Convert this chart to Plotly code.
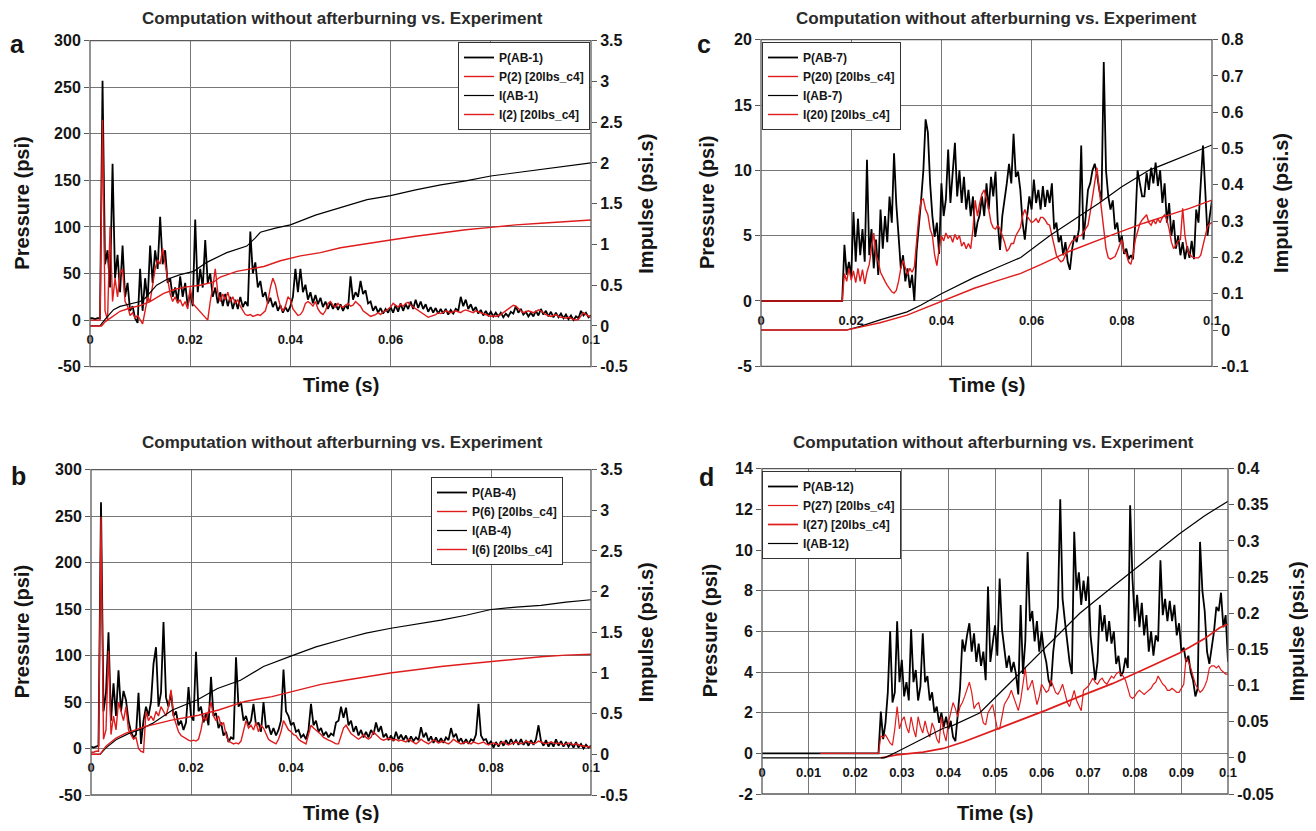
import plotly.graph_objects as go

W, H = 1316, 831          # page (window) size
OFF = 8                   # default body margin of the written html page
WF, HF = W - 2 * OFF, H - 2 * OFF   # figure size so the page fits exactly
N = 201
t_grid = [round(i * 0.0005, 4) for i in range(N)]   # 0.5 ms sampling grid (s)

# ---------------- Panel a : P(AB-1) / P(2) ----------------
pa_black = [
    2, 2, 1, 2, 2, 257, 60, 75, 35, 168,
    45, 70, 30, 80, 25, 40, 10, 15, 2, -3,
    55, 10, 45, 20, 80, 40, 75, 55, 111, 60,
    75, 40, 45, 25, 35, 20, 47, 25, 40, 15,
    30, 15, 108, 30, 55, 35, 86, 40, 50, 25,
    35, 18, 30, 15, 28, 15, 25, 12, 22, 12,
    25, 14, 20, 15, 95, 50, 62, 35, 42, 25,
    30, 18, 24, 14, 20, 10, 16, 8, 14, 9,
    15, 25, 55, 30, 55, 30, 38, 22, 30, 18,
    27, 17, 24, 14, 20, 12, 19, 12, 18, 11,
    17, 10, 16, 12, 47, 22, 30, 25, 42, 28,
    32, 18, 20, 10, 15, 8, 13, 7, 12, 8,
    14, 8, 16, 9, 18, 10, 17, 12, 20, 12,
    22, 13, 20, 12, 17, 9, 14, 8, 13, 7,
    12, 7, 12, 6, 11, 7, 12, 10, 25, 15,
    22, 12, 17, 10, 14, 7, 11, 5, 10, 5,
    9, 4, 8, 4, 8, 3, 7, 4, 9, 7,
    15, 8, 12, 6, 9, 4, 8, 4, 10, 5,
    12, 6, 10, 4, 9, 3, 8, 3, 7, 2,
    6, 1, 5, 0, 4, 2, 10, 5, 8, 3,
    5]
pa_red = [
    0, 0, 0, 0, 0, 215, 10, 0, 100, 20,
    45, 25, 50, 55, 20, 15, 5, 8, 2, 5,
    0, -4, 10, 25, 20, 40, 55, 65, 60, 77,
    60, 40, 28, 20, 25, 18, 22, 15, 20, 12,
    35, 18, 15, 12, 10, 6, 4, 0, 20, 35,
    55, 30, 20, 28, 22, 30, 20, 25, 18, 22,
    15, 10, 6, 5, 6, 4, 5, 6, 5, 8,
    10, 20, 35, 45, 38, 25, 15, 10, 15, 25,
    22, 12, 8, 5, 6, 10, 18, 20, 18, 15,
    20, 12, 8, 6, 10, 18, 20, 16, 14, 18,
    15, 14, 16, 18, 15, 16, 20, 18, 15, 10,
    8, 6, 4, 5, 6, 8, 6, 9, 10, 12,
    14, 18, 16, 14, 17, 15, 18, 19, 16, 14,
    12, 10, 8, 6, 4, 3, 4, 5, 6, 8,
    7, 8, 10, 9, 8, 9, 10, 9, 8, 10,
    11, 10, 9, 8, 10, 9, 8, 7, 6, 5,
    4, 5, 4, 5, 6, 8, 10, 12, 14, 16,
    15, 12, 10, 8, 9, 10, 9, 8, 9, 11,
    10, 8, 6, 5, 4, 5, 6, 4, 3, 3,
    2, 3, 2, 1, 0, 1, 5, 8, 6, 4,
    3]
ia_black_ms = [0, 2, 3, 4.7, 6, 8, 10, 11, 13.3, 15.3, 18, 20.7, 23.3, 27.3, 31.3, 33, 34, 37, 40, 45,
               50, 55.3, 60, 65, 70, 75, 80, 85, 90, 95, 100]
ia_black = [0, 0, 0.08, 0.2, 0.24, 0.27, 0.3, 0.34, 0.5, 0.57, 0.63, 0.67, 0.78, 0.9, 0.98, 1.08, 1.15, 1.2, 1.24, 1.36,
            1.45, 1.55, 1.6, 1.67, 1.73, 1.78, 1.84, 1.88, 1.92, 1.96, 2.0]
ia_red_ms = [0, 2.3, 3, 5, 6, 8, 10, 12, 14.7, 17, 19.3, 22, 24.7, 26, 29.3, 34.7, 38, 42, 46, 50,
             55, 60, 65, 70, 75, 80, 85, 90, 95, 100]
ia_red = [0, 0, 0.05, 0.13, 0.18, 0.22, 0.25, 0.3, 0.4, 0.45, 0.48, 0.5, 0.54, 0.6, 0.67, 0.73, 0.8, 0.86, 0.9, 0.96,
          1.01, 1.055, 1.1, 1.14, 1.18, 1.21, 1.24, 1.26, 1.28, 1.3]

# ---------------- Panel b : P(AB-4) / P(6) ----------------
pb_black = [
    2, 1, 2, 3, 265, 40, 60, 125, 30, 70,
    35, 84, 40, 62, 52, 30, 18, 12, 15, 60,
    5, 30, 45, 35, 50, 91, 109, 45, 60, 136,
    55, 45, 60, 35, 40, 25, 30, 20, 28, 66,
    35, 30, 104, 40, 45, 28, 38, 25, 77, 35,
    38, 22, 28, 14, 18, 7, 12, 10, 98, 45,
    50, 30, 35, 25, 30, 48, 25, 28, 18, 50,
    22, 25, 15, 22, 14, 20, 30, 85, 40, 35,
    25, 28, 18, 20, 12, 15, 10, 20, 48, 25,
    30, 18, 22, 14, 18, 12, 16, 14, 28, 30,
    45, 33, 44, 25, 30, 18, 24, 14, 20, 12,
    18, 12, 20, 15, 28, 18, 24, 12, 16, 9,
    14, 8, 18, 10, 15, 9, 14, 7, 13, 8,
    12, 9, 23, 12, 17, 8, 13, 6, 12, 6,
    11, 6, 12, 9, 22, 12, 16, 7, 11, 5,
    10, 5, 10, 8, 15, 48, 14, 9, 10, 4,
    8, 1, 7, 2, 8, 3, 9, 4, 10, 5,
    9, 4, 10, 4, 8, 3, 9, 4, 10, 25,
    8, 3, 9, 2, 7, 2, 10, 3, 8, 2,
    7, 2, 6, 1, 7, 1, 5, 0, 4, 1,
    3]
pb_red = [
    -4, -4, -3, -3, 249, 10, 20, 105, 15, 35,
    20, 50, 40, 30, 45, 20, 15, 10, 12, 0,
    -3, -4, 40, 30, 35, 30, 40, 35, 45, 40,
    35, 45, 63, 35, 25, 18, 14, 12, 10, 9,
    8, 9, 8, 10, 20, 35, 30, 40, 50, 35,
    30, 35, 25, 28, 15, 8, 6, 5, 6, 5,
    8, 20, 30, 22, 25, 20, 28, 18, 25, 22,
    15, 10, 8, 6, 5, 10, 18, 30, 25, 20,
    18, 15, 14, 10, 8, 6, 5, 15, 25, 22,
    20, 18, 15, 12, 10, 9, 8, 6, 5, 5,
    15, 22, 25, 20, 16, 14, 12, 10, 12, 15,
    12, 10, 12, 18, 15, 12, 10, 9, 10, 11,
    10, 9, 10, 8, 9, 8, 7, 10, 8, 6,
    5, 7, 10, 8, 6, 5, 7, 9, 8, 6,
    7, 8, 6, 5, 7, 10, 8, 6, 5, 6,
    7, 6, 5, 7, 6, 5, 6, 7, 5, 4,
    5, 6, 5, 4, 6, 7, 5, 4, 5, 6,
    7, 6, 5, 6, 8, 7, 6, 5, 6, 8,
    7, 6, 5, 6, 7, 6, 5, 6, 5, 4,
    5, 6, 5, 4, 5, 4, 3, 3, 2, 2,
    1]
ib_black_ms = [0, 1.8, 3, 5, 7.7, 10, 12.3, 16.3, 21.3, 25.3, 29.9, 34.5, 40.5, 45, 51.3, 55, 60, 65, 70, 75,
               80, 85, 90, 95, 100]
ib_black = [0, 0, 0.08, 0.18, 0.26, 0.31, 0.38, 0.545, 0.67, 0.81, 0.91, 1.08, 1.22, 1.32, 1.43, 1.49, 1.55, 1.6,
            1.65, 1.71, 1.78, 1.81, 1.83, 1.87, 1.9]
ib_red_ms = [0, 1.8, 3, 5, 7, 10.8, 16.1, 21.5, 25.5, 30.8, 36.2, 41.8, 46, 50.8, 55, 59.8, 65, 70, 75, 79.8,
             85, 90, 95, 100]
ib_red = [0, 0, 0.1, 0.2, 0.26, 0.34, 0.42, 0.48, 0.545, 0.65, 0.71, 0.8, 0.86, 0.91, 0.95, 1.0, 1.04, 1.08,
          1.11, 1.14, 1.17, 1.2, 1.22, 1.23]

# ---------------- Panel c : P(AB-7) / P(20) ----------------
pc_black = [
    0, 0, 0, 0, 0, 0, 0, 0, 0, 0,
    0, 0, 0, 0, 0, 0, 0, 0, 0, 0,
    0, 0, 0, 0, 0, 0, 0, 0, 0, 0,
    0, 0, 0, 0, 0, 0, 0, 4.3, 2.0, 3.0,
    1.8, 6.8, 3.0, 6.3, 3.5, 5.5, 3.0, 10.8, 3.5, 5.5,
    2.5, 4.7, 2.0, 7.0, 4.0, 6.5, 4.5, 8.0, 6.0, 11.3,
    7.4, 5.0, 2.5, 3.5, 1.5, 2.5, 1.0, 2.0, 0.0, 3.8,
    5.5, 7.7, 10.0, 13.9, 12.9, 9.0, 6.5, 4.9, 6.0, 3.6,
    9.0, 6.5, 7.8, 11.6, 7.5, 9.5, 12.1, 8.0, 10.0, 7.5,
    9.5, 7.0, 8.5, 6.5, 8.0, 4.9, 6.0, 6.6, 8.0, 6.5,
    9.0, 7.0, 9.5, 8.0, 9.9, 6.0, 3.9, 6.5, 7.7, 9.0,
    10.5, 9.0, 12.8, 9.5, 9.9, 8.5, 6.0, 4.7, 6.5, 8.0,
    7.0, 9.3, 7.5, 8.5, 7.0, 8.8, 7.2, 8.5, 7.5, 9.0,
    5.5, 6.0, 4.5, 5.0, 3.5, 4.5, 3.0, 2.4, 4.0, 5.0,
    4.5, 5.5, 11.9, 4.7, 6.5, 8.5, 9.0, 10.0, 10.5, 9.7,
    8.5, 7.7, 18.3, 10.0, 8.0, 7.0, 7.7, 5.5, 6.0, 4.5,
    5.0, 3.6, 4.0, 3.2, 3.5, 3.2, 6.0, 10.0, 9.0, 8.0,
    8.0, 9.8, 8.5, 10.2, 9.0, 10.6, 8.8, 10.0, 7.5, 9.0,
    6.0, 7.5, 5.0, 6.2, 4.0, 5.0, 3.5, 4.5, 3.2, 4.2,
    3.3, 4.6, 3.2, 7.0, 6.0, 9.5, 11.9, 8.5, 5.0, 6.5,
    7.7]
pc_red = [
    0, 0, 0, 0, 0, 0, 0, 0, 0, 0,
    0, 0, 0, 0, 0, 0, 0, 0, 0, 0,
    0, 0, 0, 0, 0, 0, 0, 0, 0, 0,
    0, 0, 0, 0, 0, 0, 0, 2.1, 1.5, 2.5,
    1.6, 2.3, 1.4, 2.5, 1.5, 2.4, 1.3, 2.2, 2.8, 4.0,
    5.2, 3.5, 3.0, 2.2, 1.8, 1.5, 1.2, 0.9, 0.7, 0.6,
    0.8, 1.5, 2.5, 3.1, 2.5, 2.0, 2.5, 2.2, 2.6, 4.5,
    6.5, 7.7, 7.8, 7.0, 6.6, 5.5, 5.0, 3.5, 2.7, 4.0,
    5.0, 4.6, 5.2, 4.8, 5.0, 4.5, 5.1, 4.7, 5.0, 4.2,
    4.5, 4.0, 4.4, 4.0, 5.5, 7.7, 6.5, 7.5, 8.2, 8.5,
    7.8, 7.0, 6.0, 5.6, 5.5, 5.8, 5.5, 5.0, 4.5, 3.8,
    4.0, 4.4, 4.4, 5.0, 5.3, 5.6, 6.5, 7.0, 6.5, 6.2,
    6.0, 6.1, 6.3, 6.0, 6.4, 6.4, 6.2, 5.9, 5.8, 5.0,
    4.2, 3.5, 3.2, 3.0, 3.1, 3.5, 4.0, 4.3, 4.6, 4.7,
    4.9, 5.0, 5.0, 5.3, 5.6, 5.8, 6.8, 8.0, 9.0, 10.2,
    8.5, 7.2, 5.5, 4.0, 3.3, 3.2, 3.3, 3.4, 3.8, 4.3,
    4.7, 3.8, 3.6, 3.0, 2.8, 3.5, 4.7, 5.3, 5.9, 6.2,
    6.4, 6.6, 6.0, 5.8, 6.2, 5.9, 6.3, 6.0, 6.4, 6.6,
    6.2, 5.5, 4.5, 4.0, 4.3, 4.6, 4.7, 7.1, 5.0, 4.0,
    3.6, 3.4, 3.3, 3.3, 3.3, 3.5, 4.2, 5.0, 5.7, 5.9,
    6.0]
ic_black_ms = [0, 19, 22, 26.4, 32.4, 35.5, 40, 47.3, 52, 57.6, 64, 70, 75, 80, 86, 90, 95, 100]
ic_black = [0, 0, 0.01, 0.028, 0.05, 0.069, 0.1, 0.145, 0.17, 0.2, 0.26, 0.31, 0.35, 0.395, 0.44, 0.46, 0.485, 0.51]
ic_red_ms = [0, 19, 22, 26.4, 32.4, 40, 47.3, 53, 57.6, 62, 68, 77.4, 85, 90, 95, 100]
ic_red = [0, 0, 0.008, 0.02, 0.041, 0.078, 0.115, 0.138, 0.156, 0.18, 0.215, 0.26, 0.295, 0.315, 0.335, 0.358]

# ---------------- Panel d : P(AB-12) / P(27) ----------------
pd_black = [
    0, 0, 0, 0, 0, 0, 0, 0, 0, 0,
    0, 0, 0, 0, 0, 0, 0, 0, 0, 0,
    0, 0, 0, 0, 0, 0, 0, 0, 0, 0,
    0, 0, 0, 0, 0, 0, 0, 0, 0, 0,
    0, 0, 0, 0, 0, 0, 0, 0, 0, 0,
    0, 2.05, 0.7, 1.5, 3.0, 6.0, 2.5, 3.0, 6.5, 3.5,
    4.6, 2.8, 3.5, 2.6, 6.1, 3.5, 4.1, 2.6, 3.3, 5.9,
    3.5, 3.8, 2.6, 3.0, 2.0, 2.3, 1.5, 2.0, 1.3, 1.8,
    1.2, 1.6, 0.8, 0.6, 2.0, 3.2, 5.6, 5.0, 5.8, 6.4,
    5.0, 5.9, 4.5, 5.4, 4.3, 5.0, 3.6, 8.2, 4.5, 5.5,
    6.3, 4.8, 8.6, 6.1, 5.0, 4.2, 4.8, 4.0, 4.5, 3.9,
    2.9, 7.3, 3.9, 5.5, 9.9, 6.5, 7.0, 5.5, 6.5, 5.0,
    6.0, 5.0, 4.5, 3.6, 3.3, 5.0, 6.0, 7.2, 12.5, 7.6,
    6.5, 5.6, 4.5, 3.9, 10.9, 8.0, 8.9, 7.3, 8.5, 7.5,
    8.7, 5.8, 4.7, 3.6, 4.5, 7.3, 6.0, 6.8, 5.5, 6.5,
    5.4, 6.0, 4.4, 4.8, 3.8, 4.0, 4.7, 4.2, 12.2, 8.6,
    6.5, 7.8, 6.2, 7.4, 5.8, 6.8, 5.0, 6.0, 4.8, 5.8,
    5.5, 9.5, 6.8, 7.6, 6.5, 7.5, 6.5, 7.3, 5.8, 6.4,
    5.0, 5.2, 4.5, 4.8, 4.0, 3.6, 2.8, 3.2, 10.4, 8.0,
    7.0, 5.0, 4.4, 5.3, 6.0, 7.2, 7.0, 7.9, 6.2, 6.8,
    4.5]
pd_red = [
    None, None, None, None, None, None, None, None, None, None,
    None, None, None, None, None, None, None, None, None, None,
    None, None, None, None, None, 0, 0, 0, 0, 0,
    0, 0, 0, 0, 0, 0, 0, 0, 0, 0,
    0, 0, 0, 0, 0, 0, 0, 0, 0, 0,
    0, 0.85, 0.8, 0.9, 0.7, 0.5, 0.4, 1.2, 2.3, 1.2,
    1.6, 1.8, 1.3, 1.0, 1.8, 1.2, 0.8, 1.8, 1.3, 1.0,
    1.6, 1.1, 0.8, 1.5, 1.2, 0.7, 0.5, 1.8, 1.0, 0.6,
    1.5, 2.0, 2.5, 2.2, 1.8, 2.3, 2.5, 2.8, 3.2, 3.5,
    3.0, 2.2, 2.4, 2.5, 2.0, 1.5, 1.4, 2.0, 2.2, 2.4,
    1.8, 1.2, 1.2, 1.8, 2.4, 2.6, 2.8, 3.1, 2.8, 2.4,
    2.1, 2.6, 3.5, 4.2, 3.1, 3.3, 3.6, 3.0, 2.4, 2.8,
    3.4, 3.2, 3.0, 3.1, 3.6, 3.3, 3.0, 2.9, 3.1, 3.4,
    3.0, 2.5, 2.3, 2.7, 3.1, 2.6, 2.3, 2.1, 3.1, 3.2,
    3.3, 3.5, 3.7, 3.5, 3.4, 3.6, 3.7, 3.5, 3.4, 3.6,
    3.8, 3.7, 3.9, 4.0, 3.9, 3.8, 3.6, 3.2, 2.8, 2.7,
    2.8, 3.0, 3.1, 3.0, 2.9, 3.0, 3.1, 3.2, 3.4, 3.5,
    3.8, 3.6, 3.4, 3.3, 3.1, 3.1, 3.2, 3.1, 3.0, 3.0,
    3.2, 3.4, 4.7, 4.5, 4.2, 3.8, 3.4, 3.2, 3.0, 3.1,
    3.3, 3.6, 4.2, 4.3, 4.3, 4.2, 4.3, 4.1, 4.0, 3.9,
    3.9]
id_black_ms = [0, 26.3, 28.9, 33.2, 38.9, 41, 43.2, 46.7, 53.9, 61, 68.2, 75.3, 82.5, 89.6, 95, 100]
id_black = [0, 0, 0.008, 0.022, 0.041, 0.045, 0.052, 0.062, 0.108, 0.154, 0.2, 0.237, 0.274, 0.31, 0.335, 0.355]
id_red_ms = [25.5, 28.9, 34.6, 38.9, 43.2, 48.1, 53.9, 61, 68.2, 75.3, 82.5, 89.6, 95, 98.2, 100]
id_red = [0, 0.004, 0.008, 0.013, 0.022, 0.034, 0.048, 0.066, 0.085, 0.103, 0.124, 0.145, 0.165, 0.18, 0.185]

# ---------------- tick labels ----------------
x_ticks_02 = [0, 0.02, 0.04, 0.06, 0.08, 0.1]
x_text_02 = ["0", "0.02", "0.04", "0.06", "0.08", "0.1"]
x_ticks_01 = [0, 0.01, 0.02, 0.03, 0.04, 0.05, 0.06, 0.07, 0.08, 0.09, 0.1]
x_text_01 = ["0", "0.01", "0.02", "0.03", "0.04", "0.05", "0.06", "0.07", "0.08", "0.09", "0.1"]
p_ticks_ab = [-50, 0, 50, 100, 150, 200, 250, 300]
p_text_ab = ["-50", "0", "50", "100", "150", "200", "250", "300"]
i_ticks_ab = [-0.5, 0, 0.5, 1, 1.5, 2, 2.5, 3, 3.5]
i_text_ab = ["-0.5", "0", "0.5", "1", "1.5", "2", "2.5", "3", "3.5"]
p_ticks_c = [-5, 0, 5, 10, 15, 20]
p_text_c = ["-5", "0", "5", "10", "15", "20"]
i_ticks_c = [-0.1, 0, 0.1, 0.2, 0.3, 0.4, 0.5, 0.6, 0.7, 0.8]
i_text_c = ["-0.1", "0", "0.1", "0.2", "0.3", "0.4", "0.5", "0.6", "0.7", "0.8"]
p_ticks_d = [-2, 0, 2, 4, 6, 8, 10, 12, 14]
p_text_d = ["-2", "0", "2", "4", "6", "8", "10", "12", "14"]
i_ticks_d = [-0.05, 0, 0.05, 0.1, 0.15, 0.2, 0.25, 0.3, 0.35, 0.4]
i_text_d = ["-0.05", "0", "0.05", "0.1", "0.15", "0.2", "0.25", "0.3", "0.35", "0.4"]

for s in [pa_black, pa_red, pb_black, pb_red, pc_black, pc_red, pd_black, pd_red]:
    assert len(s) == N, len(s)

TITLE = "Computation without afterburning vs. Experiment"
BLACK = "#000000"
RED = "#e01b1b"
GRID = "#777777"
FRAME = "#5a5a5a"
TXT = "#151515"
FONT = "Arial, 'Liberation Sans', sans-serif"


def fx(px):   # page pixel -> paper fraction
    return (px - OFF) / WF


def fy(py):
    return 1 - (py - OFF) / HF


def ms_to_s(v):
    return [x / 1000.0 for x in v]


panels = [
    dict(n=1, box=(90, 591, 40.7, 366.7), prange=[-50, 300], pt=(p_ticks_ab, p_text_ab),
         irange=[-0.5, 3.5], it=(i_ticks_ab, i_text_ab), xt=(x_ticks_02, x_text_02),
         leg=dict(x=fx(590), y=fy(42), xanchor="right"), title=(342, 18), letter=("a", 17, 44),
         ltx=22, rtx=646, xtitle_y=385,
         series=[("P(AB-1)", t_grid, pa_black, BLACK, 1.8, "L"),
                 ("P(2) [20lbs_c4]", t_grid, pa_red, RED, 1.4, "L"),
                 ("I(AB-1)", ms_to_s(ia_black_ms), ia_black, BLACK, 1.2, "R"),
                 ("I(2) [20lbs_c4]", ms_to_s(ia_red_ms), ia_red, RED, 1.4, "R")]),
    dict(n=2, box=(91, 591, 469.6, 795), prange=[-50, 300], pt=(p_ticks_ab, p_text_ab),
         irange=[-0.5, 3.5], it=(i_ticks_ab, i_text_ab), xt=(x_ticks_02, x_text_02),
         leg=dict(x=fx(563), y=fy(477), xanchor="right"), title=(342, 442), letter=("b", 18, 476),
         ltx=22, rtx=646, xtitle_y=813,
         series=[("P(AB-4)", t_grid, pb_black, BLACK, 1.8, "L"),
                 ("P(6) [20lbs_c4]", t_grid, pb_red, RED, 1.4, "L"),
                 ("I(AB-4)", ms_to_s(ib_black_ms), ib_black, BLACK, 1.2, "R"),
                 ("I(6) [20lbs_c4]", ms_to_s(ib_red_ms), ib_red, RED, 1.4, "R")]),
    dict(n=3, box=(761, 1212, 39.7, 366.3), prange=[-5, 20], pt=(p_ticks_c, p_text_c),
         irange=[-0.1, 0.8], it=(i_ticks_c, i_text_c), xt=(x_ticks_02, x_text_02),
         leg=dict(x=fx(762), y=fy(42), xanchor="left"), title=(996, 18), letter=("c", 704, 44),
         ltx=707, rtx=1281, xtitle_y=385,
         series=[("P(AB-7)", t_grid, pc_black, BLACK, 1.8, "L"),
                 ("P(20) [20lbs_c4]", t_grid, pc_red, RED, 1.4, "L"),
                 ("I(AB-7)", ms_to_s(ic_black_ms), ic_black, BLACK, 1.2, "R"),
                 ("I(20) [20lbs_c4]", ms_to_s(ic_red_ms), ic_red, RED, 1.4, "R")]),
    dict(n=4, box=(762, 1228, 468.7, 794), prange=[-2, 14], pt=(p_ticks_d, p_text_d),
         irange=[-0.05, 0.4], it=(i_ticks_d, i_text_d), xt=(x_ticks_01, x_text_01),
         leg=dict(x=fx(762), y=fy(471), xanchor="left"), title=(993, 442), letter=("d", 706, 477),
         ltx=710, rtx=1297, xtitle_y=813,
         series=[("P(AB-12)", t_grid, pd_black, BLACK, 1.8, "L"),
                 ("P(27) [20lbs_c4]", t_grid, pd_red, RED, 1.2, "L"),
                 ("I(27) [20lbs_c4]", ms_to_s(id_red_ms), id_red, RED, 1.7, "R"),
                 ("I(AB-12)", ms_to_s(id_black_ms), id_black, BLACK, 1.2, "R")]),
]

fig = go.Figure()
layout = dict(width=WF, height=HF, margin=dict(l=0, r=0, t=0, b=0, autoexpand=False),
              paper_bgcolor="white", plot_bgcolor="white",
              font=dict(family=FONT, color=TXT), annotations=[], shapes=[])

for p in panels:
    n = p["n"]
    x0, x1, ytop, ybot = p["box"]
    xd = [fx(x0), fx(x1)]
    yd = [fy(ybot), fy(ytop)]
    pr = p["prange"]
    zero_pos = yd[0] + (0 - pr[0]) / (pr[1] - pr[0]) * (yd[1] - yd[0])
    xid = "x" if n == 1 else "x%d" % n
    yl = "y" if n == 1 else "y%d" % (2 * n - 1)
    yr = "y%d" % (2 * n)
    xname = "xaxis" if n == 1 else "xaxis%d" % n
    ylname = "yaxis" if n == 1 else "yaxis%d" % (2 * n - 1)
    yrname = "yaxis%d" % (2 * n)
    legname = "legend" if n == 1 else "legend%d" % n

    layout[xname] = dict(domain=xd, range=[0, 0.1], anchor="free", position=zero_pos,
                         tickvals=p["xt"][0], ticktext=p["xt"][1], showgrid=True, gridcolor=GRID,
                         gridwidth=1.2, zeroline=False, showline=False, ticks="outside", ticklen=7,
                         tickcolor="rgba(0,0,0,0)",
                         tickfont=dict(family=FONT, size=13, color=TXT, weight="bold"))
    layout[ylname] = dict(domain=yd, range=pr, anchor=xid, tickvals=p["pt"][0], ticktext=p["pt"][1],
                          showgrid=True, gridcolor=GRID, gridwidth=1.2, zeroline=False, showline=False,
                          ticks="outside", ticklen=5, tickcolor=FRAME,
                          tickfont=dict(family=FONT, size=16, color=TXT, weight="bold"))
    layout[yrname] = dict(range=p["irange"], overlaying=yl, anchor=xid, side="right",
                          tickvals=p["it"][0], ticktext=p["it"][1], showgrid=False, zeroline=False,
                          showline=False, ticks="outside", ticklen=5, tickcolor=FRAME,
                          tickfont=dict(family=FONT, size=16, color=TXT, weight="bold"))
    layout[legname] = dict(x=p["leg"]["x"], y=p["leg"]["y"], xanchor=p["leg"]["xanchor"], yanchor="top",
                           bgcolor="white", bordercolor="#333333", borderwidth=1, itemwidth=30,
                           tracegroupgap=0, traceorder="normal",
                           font=dict(family=FONT, size=12, color=TXT, weight="bold"))

    for name, xs, ys, col, wd, side in p["series"]:
        fig.add_trace(go.Scatter(x=xs, y=ys, mode="lines", name=name,
                                 line=dict(color=col, width=wd),
                                 xaxis=xid, yaxis=(yl if side == "L" else yr),
                                 legend=legname, connectgaps=False))

    # plot frame
    layout["shapes"].append(dict(type="rect", xref="paper", yref="paper", x0=xd[0], x1=xd[1],
                                 y0=yd[0], y1=yd[1], line=dict(color=FRAME, width=1.3), layer="above"))
    ymid = fy((ytop + ybot) / 2)
    anns = layout["annotations"]
    anns.append(dict(text=TITLE, x=fx(p["title"][0]), y=fy(p["title"][1]), xref="paper", yref="paper",
                     showarrow=False, xanchor="center", yanchor="middle",
                     font=dict(family=FONT, size=17, color="#2a2a2a", weight="bold")))
    anns.append(dict(text=p["letter"][0], x=fx(p["letter"][1]), y=fy(p["letter"][2]), xref="paper",
                     yref="paper", showarrow=False, xanchor="center", yanchor="middle",
                     font=dict(family=FONT, size=25, color=TXT, weight="bold")))
    anns.append(dict(text="Pressure (psi)", x=fx(p["ltx"]), y=ymid, xref="paper", yref="paper",
                     textangle=-90, showarrow=False, xanchor="center", yanchor="middle",
                     font=dict(family=FONT, size=20, color=TXT, weight="bold")))
    anns.append(dict(text="Impulse (psi.s)", x=fx(p["rtx"]), y=ymid, xref="paper", yref="paper",
                     textangle=-90, showarrow=False, xanchor="center", yanchor="middle",
                     font=dict(family=FONT, size=20, color=TXT, weight="bold")))
    anns.append(dict(text="Time (s)", x=(xd[0] + xd[1]) / 2, y=fy(p["xtitle_y"]), xref="paper",
                     yref="paper", showarrow=False, xanchor="center", yanchor="middle",
                     font=dict(family=FONT, size=20, color=TXT, weight="bold")))

fig.update_layout(**layout)
fig.write_html("out.html")
